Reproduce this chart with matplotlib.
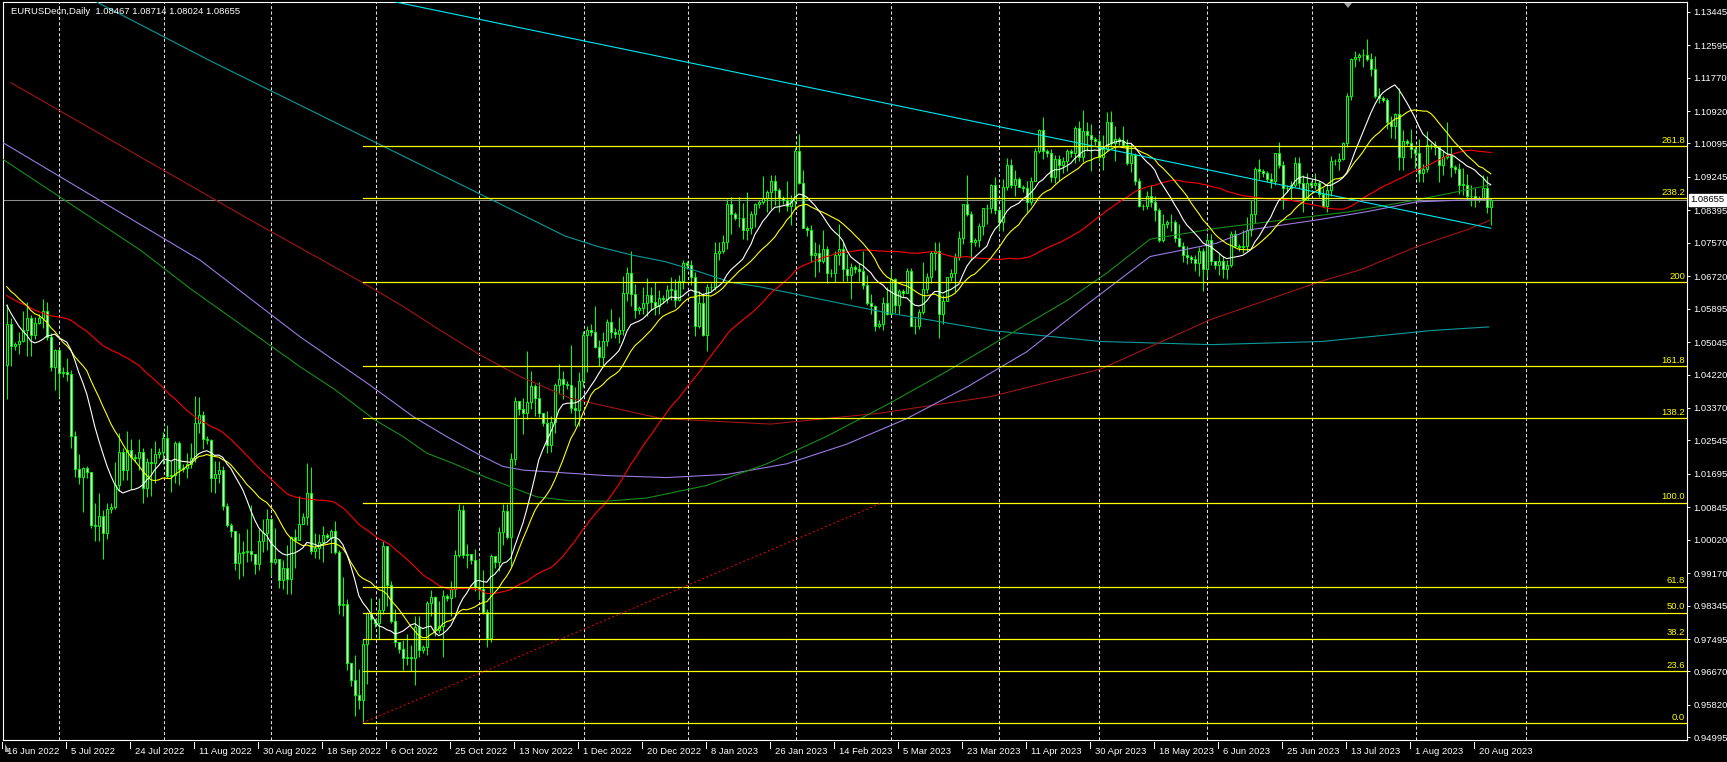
import numpy as np
import pandas as pd
import matplotlib
matplotlib.use("Agg")
import matplotlib.pyplot as plt
from matplotlib.transforms import blended_transform_factory
from matplotlib.patches import Polygon

plt.rcParams['font.family'] = ['Liberation Sans', 'DejaVu Sans']

# bars: broker has Sunday bars, no Saturday bars
bar_dates = [d for d in pd.date_range("2022-06-16", "2023-08-23") if d.weekday() != 5]

first_open = 1.0446
# one row per week (Sun..Fri)
closes = [
    1.0550, 1.0495,
    1.0500, 1.0508, 1.0535, 1.0566, 1.0522, 1.0554,
    1.0565, 1.0584, 1.0518, 1.0442, 1.0484, 1.0425,
    1.0428, 1.0424, 1.0265, 1.0183, 1.0161, 1.0184,
    1.0175, 1.0040, 1.0036, 1.0063, 1.0018, 1.0080,
    1.0085, 1.0141, 1.0225, 1.0180, 1.0230, 1.0212,
    1.0210, 1.0225, 1.0133, 1.0200, 1.0196, 1.0220,
    1.0225, 1.0260, 1.0165, 1.0166, 1.0248, 1.0181,
    1.0185, 1.0195, 1.0211, 1.0298, 1.0319, 1.0259,
    1.0255, 1.0160, 1.0170, 1.0178, 1.0088, 1.0040,
    1.0025, 0.9942, 0.9967, 0.9970, 0.9972, 0.9965,
    0.9940, 0.9999, 1.0018, 1.0055, 0.9945, 0.9953,
    0.9900, 0.9930, 0.9903, 1.0010, 1.0000, 1.0043,
    1.0060, 1.0120, 0.9973, 0.9980, 0.9995, 1.0015,
    1.0010, 1.0025, 0.9970, 0.9837, 0.9838, 0.9689,
    0.9645, 0.9607, 0.9595, 0.9737, 0.9815, 0.9801,
    0.9790, 0.9824, 0.9986, 0.9886, 0.9795, 0.9741,
    0.9725, 0.9702, 0.9705, 0.9702, 0.9780, 0.9721,
    0.9730, 0.9842, 0.9856, 0.9773, 0.9782, 0.9859,
    0.9855, 0.9877, 0.9964, 1.0078, 0.9962, 0.9965,
    0.9950, 0.9882, 0.9877, 0.9818, 0.9752, 0.9960,
    0.9945, 1.0022, 1.0074, 1.0010, 1.0207, 1.0355,
    1.0335, 1.0324, 1.0351, 1.0394, 1.0363, 1.0324,
    1.0300, 1.0243, 1.0302, 1.0396, 1.0410, 1.0399,
    1.0395, 1.0338, 1.0331, 1.0405, 1.0523, 1.0535,
    1.0530, 1.0491, 1.0467, 1.0506, 1.0555, 1.0529,
    1.0525, 1.0535, 1.0629, 1.0681, 1.0627, 1.0585,
    1.0590, 1.0605, 1.0623, 1.0606, 1.0595, 1.0617,
    1.0615, 1.0638, 1.0638, 1.0612, 1.0660, 1.0705,
    1.0700, 1.0670, 1.0545, 1.0605, 1.0522, 1.0645,
    1.0645, 1.0730, 1.0735, 1.0760, 1.0855, 1.0830,
    1.0820, 1.0820, 1.0790, 1.0795, 1.0830, 1.0855,
    1.0860, 1.0870, 1.0885, 1.0915, 1.0890, 1.0870,
    1.0865, 1.0850, 1.0863, 1.0990, 1.0910, 1.0795,
    1.0790, 1.0725, 1.0730, 1.0710, 1.0740, 1.0680,
    1.0680, 1.0725, 1.0740, 1.0690, 1.0675, 1.0695,
    1.0690, 1.0685, 1.0650, 1.0605, 1.0595, 1.0545,
    1.0550, 1.0605, 1.0575, 1.0665, 1.0598, 1.0635,
    1.0630, 1.0685, 1.0545, 1.0545, 1.0580, 1.0640,
    1.0670, 1.0730, 1.0735, 1.0575, 1.0610, 1.0670,
    1.0680, 1.0720, 1.0770, 1.0855, 1.0830, 1.0760,
    1.0765, 1.0800, 1.0845, 1.0845, 1.0905, 1.0840,
    1.0810, 1.0900, 1.0955, 1.0905, 1.0920, 1.0900,
    1.0895, 1.0860, 1.0915, 1.0990, 1.1045, 1.0990,
    1.0985, 1.0925, 1.0970, 1.0955, 1.0965, 1.0990,
    1.0985, 1.1050, 1.0975, 1.1040, 1.1030, 1.1020,
    1.1015, 1.0975, 1.0995, 1.1065, 1.1010, 1.1020,
    1.1015, 1.1005, 1.0960, 1.0980, 1.0915, 1.0850,
    1.0850, 1.0875, 1.0860, 1.0840, 1.0765, 1.0805,
    1.0810, 1.0810, 1.0770, 1.0750, 1.0725, 1.0720,
    1.0715, 1.0705, 1.0735, 1.0690, 1.0765, 1.0710,
    1.0700, 1.0710, 1.0690, 1.0700, 1.0780, 1.0750,
    1.0745, 1.0750, 1.0790, 1.0830, 1.0945, 1.0940,
    1.0935, 1.0920, 1.0915, 1.0985, 1.0955, 1.0895,
    1.0895, 1.0905, 1.0960, 1.0910, 1.0865, 1.0910,
    1.0905, 1.0910, 1.0880, 1.0850, 1.0890, 1.0965,
    1.0965, 1.0970, 1.1010, 1.1130, 1.1225, 1.1230,
    1.1235, 1.1235, 1.1225, 1.1200, 1.1130, 1.1125,
    1.1120, 1.1065, 1.1055, 1.1085, 1.0975, 1.1015,
    1.1010, 1.0995, 1.0985, 1.0935, 1.0945, 1.1005,
    1.1005, 1.1000, 1.0955, 1.0975, 1.0980, 1.0950,
    1.0945, 1.0905, 1.0905, 1.0875, 1.0875, 1.0870,
    1.0870, 1.0895, 1.0847, 1.08655,
]
highs = [
    1.0601, 1.0566,
    1.0505, 1.0530, 1.0583, 1.0606, 1.0573, 1.0569,
    1.0575, 1.0615, 1.0606, 1.0528, 1.0488, 1.0486,
    1.0440, 1.0463, 1.0433, 1.0279, 1.0220, 1.0187,
    1.0190, 1.0162, 1.0095, 1.0122, 1.0078, 1.0096,
    1.0095, 1.0200, 1.0273, 1.0235, 1.0278, 1.0257,
    1.0220, 1.0258, 1.0234, 1.0209, 1.0235, 1.0254,
    1.0235, 1.0275, 1.0294, 1.0202, 1.0254, 1.0254,
    1.0195, 1.0222, 1.0248, 1.0368, 1.0364, 1.0330,
    1.0265, 1.0258, 1.0203, 1.0201, 1.0190, 1.0096,
    1.0045, 1.0025, 1.0018, 0.9999, 1.0030, 1.0090,
    0.9960, 1.0028, 1.0055, 1.0080, 1.0055, 1.0033,
    0.9935, 0.9951, 0.9988, 1.0012, 1.0030, 1.0113,
    1.0070, 1.0198, 1.0187, 1.0020, 1.0017, 1.0037,
    1.0020, 1.0030, 1.0050, 0.9976, 0.9907, 0.9852,
    0.9660, 0.9710, 0.9672, 0.9750, 0.9817, 0.9853,
    0.9800, 0.9855, 0.9999, 0.9987, 0.9897, 0.9826,
    0.9740, 0.9748, 0.9763, 0.9734, 0.9807, 0.9807,
    0.9735, 0.9847, 0.9875, 0.9860, 0.9847, 0.9873,
    0.9865, 0.9898, 0.9976, 1.0094, 1.0089, 0.9990,
    0.9960, 0.9978, 0.9954, 0.9924, 0.9826, 0.9966,
    0.9955, 1.0034, 1.0093, 1.0094, 1.0222, 1.0365,
    1.0350, 1.0363, 1.0481, 1.0430, 1.0398, 1.0404,
    1.0320, 1.0330, 1.0316, 1.0400, 1.0449, 1.0432,
    1.0405, 1.0497, 1.0389, 1.0428, 1.0533, 1.0545,
    1.0550, 1.0595, 1.0510, 1.0531, 1.0564, 1.0589,
    1.0540, 1.0569, 1.0673, 1.0695, 1.0737, 1.0653,
    1.0595, 1.0645, 1.0667, 1.0645, 1.0658, 1.0637,
    1.0625, 1.0650, 1.0671, 1.0665, 1.0674, 1.0714,
    1.0710, 1.0713, 1.0683, 1.0634, 1.0629, 1.0653,
    1.0655, 1.0760, 1.0760, 1.0776, 1.0868, 1.0874,
    1.0835, 1.0874, 1.0858, 1.0887, 1.0838, 1.0859,
    1.0865, 1.0927, 1.0890, 1.0929, 1.0930, 1.0897,
    1.0875, 1.0915, 1.0878, 1.0998, 1.1033, 1.0942,
    1.0800, 1.0802, 1.0760, 1.0755, 1.0790, 1.0750,
    1.0690, 1.0735, 1.0805, 1.0760, 1.0729, 1.0705,
    1.0700, 1.0705, 1.0735, 1.0675, 1.0627, 1.0600,
    1.0560, 1.0620, 1.0645, 1.0691, 1.0668, 1.0640,
    1.0640, 1.0694, 1.0694, 1.0565, 1.0589, 1.0708,
    1.0680, 1.0737, 1.0759, 1.0760, 1.0625, 1.0671,
    1.0690, 1.0730, 1.0788, 1.0856, 1.0930, 1.0838,
    1.0770, 1.0807, 1.0845, 1.0855, 1.0907, 1.0925,
    1.0830, 1.0918, 1.0973, 1.0970, 1.0942, 1.0925,
    1.0905, 1.0915, 1.0925, 1.0998, 1.1047, 1.1076,
    1.0995, 1.0995, 1.0980, 1.0980, 1.0975, 1.0995,
    1.0995, 1.1054, 1.1067, 1.1095, 1.1064, 1.1060,
    1.1025, 1.1034, 1.1032, 1.1090, 1.1092, 1.1055,
    1.1025, 1.1054, 1.1020, 1.1010, 1.0985, 1.0922,
    1.0855, 1.0888, 1.0905, 1.0875, 1.0846, 1.0830,
    1.0815, 1.0829, 1.0815, 1.0805, 1.0760, 1.0750,
    1.0725, 1.0725, 1.0746, 1.0743, 1.0778, 1.0780,
    1.0710, 1.0730, 1.0723, 1.0712, 1.0787, 1.0790,
    1.0755, 1.0790, 1.0823, 1.0865, 1.0949, 1.0971,
    1.0945, 1.0940, 1.0935, 1.0985, 1.1012, 1.0965,
    1.0905, 1.0915, 1.0976, 1.0974, 1.0930, 1.0935,
    1.0915, 1.0935, 1.0915, 1.0895, 1.0905, 1.0977,
    1.0970, 1.0985, 1.1013, 1.1137, 1.1226, 1.1245,
    1.1240, 1.1250, 1.1276, 1.1240, 1.1232, 1.1150,
    1.1130, 1.1125, 1.1080, 1.1087, 1.1150, 1.1043,
    1.1020, 1.1047, 1.1000, 1.1020, 1.0957, 1.1042,
    1.1010, 1.1017, 1.1000, 1.0992, 1.1064, 1.1000,
    1.0955, 1.0960, 1.0947, 1.0931, 1.0903, 1.0895,
    1.0875, 1.0930, 1.0928, 1.08714,
]
lows = [
    1.0359, 1.0444,
    1.0485, 1.0474, 1.0505, 1.0468, 1.0470, 1.0512,
    1.0550, 1.0541, 1.0510, 1.0431, 1.0383, 1.0366,
    1.0415, 1.0405, 1.0235, 1.0162, 1.0144, 1.0072,
    1.0160, 1.0032, 0.9998, 0.9999, 0.9952, 1.0005,
    1.0070, 1.0080, 1.0125, 1.0154, 1.0153, 1.0130,
    1.0200, 1.0180, 1.0096, 1.0110, 1.0114, 1.0145,
    1.0210, 1.0195, 1.0160, 1.0123, 1.0146, 1.0141,
    1.0175, 1.0160, 1.0185, 1.0200, 1.0273, 1.0232,
    1.0245, 1.0123, 1.0120, 1.0147, 1.0077, 1.0034,
    1.0010, 0.9926, 0.9901, 0.9910, 0.9945, 0.9949,
    0.9914, 0.9925, 0.9971, 0.9975, 0.9910, 0.9939,
    0.9880, 0.9877, 0.9865, 0.9864, 0.9930, 1.0000,
    1.0045, 1.0040, 0.9966, 0.9955, 0.9954, 0.9945,
    1.0005, 0.9967, 0.9966, 0.9813, 0.9807, 0.9670,
    0.9630, 0.9554, 0.9571, 0.9536, 0.9635, 0.9749,
    0.9780, 0.9750, 0.9812, 0.9834, 0.9789, 0.9729,
    0.9715, 0.9670, 0.9683, 0.9668, 0.9632, 0.9703,
    0.9715, 0.9710, 0.9807, 0.9756, 0.9765, 0.9705,
    0.9845, 0.9808, 0.9857, 0.9959, 0.9955, 0.9929,
    0.9940, 0.9872, 0.9851, 0.9812, 0.9730, 0.9742,
    0.9930, 0.9922, 0.9988, 1.0005, 0.9935, 1.0192,
    1.0320, 1.0271, 1.0308, 1.0335, 1.0316, 1.0315,
    1.0290, 1.0223, 1.0226, 1.0273, 1.0373, 1.0360,
    1.0385, 1.0325, 1.0290, 1.0290, 1.0390, 1.0428,
    1.0520, 1.0489, 1.0443, 1.0442, 1.0495, 1.0514,
    1.0515, 1.0503, 1.0522, 1.0609, 1.0595, 1.0566,
    1.0575, 1.0577, 1.0572, 1.0586, 1.0574, 1.0575,
    1.0605, 1.0605, 1.0612, 1.0594, 1.0608, 1.0640,
    1.0690, 1.0650, 1.0519, 1.0540, 1.0520, 1.0483,
    1.0635, 1.0637, 1.0713, 1.0730, 1.0740, 1.0780,
    1.0815, 1.0796, 1.0767, 1.0765, 1.0780, 1.0797,
    1.0845, 1.0855, 1.0834, 1.0844, 1.0854, 1.0836,
    1.0855, 1.0839, 1.0802, 1.0842, 1.0907, 1.0794,
    1.0775, 1.0708, 1.0669, 1.0682, 1.0705, 1.0655,
    1.0670, 1.0657, 1.0700, 1.0660, 1.0659, 1.0613,
    1.0680, 1.0660, 1.0640, 1.0600, 1.0577, 1.0533,
    1.0540, 1.0536, 1.0573, 1.0577, 1.0578, 1.0577,
    1.0620, 1.0630, 1.0546, 1.0524, 1.0537, 1.0575,
    1.0630, 1.0655, 1.0687, 1.0516, 1.0550, 1.0610,
    1.0660, 1.0633, 1.0713, 1.0753, 1.0825, 1.0713,
    1.0750, 1.0745, 1.0777, 1.0805, 1.0833, 1.0830,
    1.0790, 1.0788, 1.0891, 1.0895, 1.0875, 1.0900,
    1.0885, 1.0836, 1.0852, 1.0915, 1.0985, 1.0970,
    1.0975, 1.0912, 1.0910, 1.0914, 1.0935, 1.0940,
    1.0975, 1.0960, 1.0966, 1.0962, 1.0990, 1.0940,
    1.1005, 1.0966, 1.0942, 1.0990, 1.1000, 1.0966,
    1.1005, 1.1000, 1.0956, 1.0938, 1.0903, 1.0848,
    1.0840, 1.0842, 1.0849, 1.0812, 1.0760, 1.0759,
    1.0795, 1.0787, 1.0760, 1.0745, 1.0707, 1.0702,
    1.0705, 1.0686, 1.0673, 1.0635, 1.0670, 1.0700,
    1.0690, 1.0675, 1.0667, 1.0665, 1.0696, 1.0745,
    1.0735, 1.0732, 1.0735, 1.0775, 1.0806, 1.0918,
    1.0925, 1.0912, 1.0895, 1.0903, 1.0946, 1.0844,
    1.0885, 1.0865, 1.0898, 1.0897, 1.0835, 1.0865,
    1.0895, 1.0894, 1.0874, 1.0847, 1.0834, 1.0875,
    1.0955, 1.0942, 1.0967, 1.1000, 1.1120, 1.1205,
    1.1220, 1.1205, 1.1218, 1.1180, 1.1125, 1.1113,
    1.1115, 1.1047, 1.1023, 1.1020, 1.0943, 1.0943,
    1.1005, 1.0973, 1.0948, 1.0912, 1.0911, 1.0937,
    1.0995, 1.0981, 1.0912, 1.0930, 1.0970, 1.0925,
    1.0935, 1.0882, 1.0878, 1.0867, 1.0850, 1.0847,
    1.0860, 1.0872, 1.0833, 1.08024,
]
# closes before 16 Jun 2022, needed to start the moving averages
pre_closes = [
    1.0825, 1.0810,
    1.0805, 1.0780, 1.0785, 1.0855, 1.0835, 1.0795,
    1.0780, 1.0715, 1.0640, 1.0560, 1.0500, 1.0545,
    1.0540, 1.0505, 1.0525, 1.0620, 1.0540, 1.0550,
    1.0535, 1.0560, 1.0530, 1.0515, 1.0380, 1.0410,
    1.0405, 1.0435, 1.0550, 1.0465, 1.0585, 1.0560,
    1.0565, 1.0690, 1.0735, 1.0675, 1.0725, 1.0735,
    1.0740, 1.0780, 1.0735, 1.0650, 1.0750, 1.0720,
    1.0725, 1.0695, 1.0705, 1.0715, 1.0615, 1.0520,
    1.0510, 1.0410, 1.0415, 1.0445,
]

# slow averages (bar number, price)
green_bar = [-1.7, 33.3, 45.8, 73.3, 82.1, 92.1, 99.1, 105.0, 111.6, 118.3, 125.8, 132.5, 140.8,
             150, 160, 175, 190, 205, 220, 235, 250, 265, 275, 285.8, 302.5, 319.1, 335.8, 352.5, 360.8, 370.8]
green_px = [1.0974, 1.0739, 1.0641, 1.0442, 1.0383, 1.0306, 1.0264, 1.0222, 1.0196, 1.0167, 1.0137, 1.0111, 1.0101,
            1.0100, 1.0108, 1.0140, 1.0195, 1.0265, 1.0345, 1.0430, 1.0520, 1.0610, 1.0680, 1.0766, 1.0794, 1.0815, 1.0836, 1.0866, 1.0883, 1.0904]
purple_bar = [-1.7, 48.3, 73.3, 90.8, 101.6, 110.0, 118.3, 124.1, 129.1, 140.8,
              150, 165, 180, 195, 210, 225, 240, 255, 270, 285.8, 302.5, 310.8, 327.5, 340.0, 352.5, 365.0, 371.0]
purple_px = [1.1016, 1.0713, 1.0518, 1.0395, 1.0315, 1.0264, 1.0217, 1.0188, 1.0179, 1.0171,
             1.0165, 1.0160, 1.0168, 1.0195, 1.0245, 1.0310, 1.0390, 1.0480, 1.0600, 1.0722, 1.0756, 1.0790, 1.0815, 1.0836, 1.0861, 1.0866, 1.0868]
darkred_bar = [1.0, 30, 60, 90.8, 99.1, 107.5, 118.3, 128.3, 140.8, 163.6, 191, 218.5, 246, 273.5, 301, 328.8, 338.3, 352.5, 365.0, 371.0]
darkred_px = [1.1164, 1.0995, 1.0820, 1.0645, 1.0595, 1.0540, 1.0472, 1.0417, 1.0362, 1.0310, 1.0296, 1.0324, 1.0366, 1.0436, 1.0562, 1.0660, 1.0688, 1.0747, 1.0790, 1.0815]
teal_bar = [22.5, 50.4, 95, 139.6, 147.9, 156.2, 164.6, 172.9, 181.2, 188.3, 218.5, 246, 273.5, 301, 328.8, 356.3, 370.5]
teal_px = [1.1369, 1.1222, 1.0998, 1.0774, 1.0747, 1.0726, 1.0709, 1.0684, 1.0656, 1.0645, 1.0582, 1.0534, 1.0506, 1.0498, 1.0506, 1.0534, 1.0543]

# drawn objects
trend_bar = [97.3, 371]
trend_px = [1.1369, 1.0794]
fib_bar = [89, 219]
fib_px = [0.95365, 1.00965]
fib_levels = [0.0, 23.6, 38.2, 50.0, 61.8, 100.0, 138.2, 161.8, 200.0, 238.2, 261.8]
fib_names = ["0.0", "23.6", "38.2", "50.0", "61.8", "100.0", "138.2", "161.8", "200", "238.2", "261.8"]

price_ticks = [1.13445, 1.12595, 1.11770, 1.10920, 1.10095, 1.09245, 1.08395, 1.07570, 1.06720, 1.05895,
               1.05045, 1.04220, 1.03370, 1.02545, 1.01695, 1.00845, 1.00020, 0.99170, 0.98345, 0.97495,
               0.96670, 0.95820, 0.94995]
grid_bars = [13.1, 39.2, 66.05, 92.2, 118.15, 144.2, 170.3, 197.2, 221.05, 248.15, 273.05, 300.1, 326.2, 352.2, 379.9]
title = "EURUSDecn,Daily  1.08467 1.08714 1.08024 1.08655"
last_price = 1.08655

LIME = "#00ff00"

n = len(closes)
x = np.arange(n)
c = np.array(closes)
h = np.array(highs)
l = np.array(lows)
o = np.concatenate([[first_open], c[:-1]])

allc = pd.Series(np.concatenate([pre_closes, c]))
def sma(period):
    return allc.rolling(period).mean().values[len(pre_closes):]

W, H = 1727, 762
fig = plt.figure(figsize=(W / 100, H / 100), dpi=100, facecolor="black")
ax = fig.add_axes([3 / W, 22 / H, 1684 / W, 738 / H], facecolor="black")
ax.set_xlim(-0.95, 420.05)
ax.set_ylim(0.94927, 1.13692)

# grid
for gx in grid_bars:
    ax.axvline(gx, color="#e0e0e0", lw=0.75, dashes=(3, 2.2), zorder=1)

# current price line
ax.axhline(last_price, color="#8c8c8c", lw=0.75, zorder=1.5)

# candles
ax.vlines(x, l, h, color=LIME, lw=0.75, zorder=3)
up = c >= o
body_lo = np.minimum(o, c)
body_h = np.maximum(np.abs(c - o), 0.00002)
ax.bar(x, body_h, bottom=body_lo, width=0.6, color=np.where(up, "black", "white"),
       edgecolor=LIME, linewidth=0.75, zorder=4)

# moving averages
ax.plot(teal_bar, teal_px, color="#0a9a9a", lw=0.8, zorder=5)
ax.plot(darkred_bar, darkred_px, color="#a01515", lw=0.8, zorder=5)
ax.plot(purple_bar, purple_px, color="#9a7ae0", lw=0.8, zorder=5)
ax.plot(green_bar, green_px, color="#188c18", lw=0.8, zorder=5)
ax.plot(x, sma(55), color="#ff0000", lw=0.8, zorder=5)
ax.plot(x, sma(21), color="#ffff00", lw=0.8, zorder=5)
ax.plot(x, sma(13), color="#ffffff", lw=0.8, zorder=5)

# trend line
ax.plot(trend_bar, trend_px, color="#00e8f0", lw=0.8, zorder=6)

# fibonacci
lo, hi = fib_px
for lev, name in zip(fib_levels, fib_names):
    p = lo + (hi - lo) * lev / 100
    ax.plot([fib_bar[0], 420.05], [p, p], color="#ffff00", lw=0.9, zorder=6)
    ax.text(419.6, p + 0.0003, name, color="#ffff00", fontsize=6.8, ha="right", va="bottom", zorder=7)
ax.plot(fib_bar, fib_px, color="#ff0000", lw=0.8, dashes=(1.5, 2.5), zorder=6)

# axes frame and price scale
for s in ax.spines.values():
    s.set_color("white")
    s.set_linewidth(0.8)
ax.set_xticks([])
ax.yaxis.tick_right()
ax.set_yticks(price_ticks)
ax.set_yticklabels([f"{v:.5f}" for v in price_ticks])
ax.tick_params(axis="y", colors="white", labelsize=6.8, length=2.5, width=0.7, pad=2)

# last price box
fig.text(1690 / W, 1 - 200 / H, f"{last_price:.5f}", color="black", fontsize=6.8, va="center", ha="left",
         bbox=dict(boxstyle="square,pad=0.15", facecolor="white", edgecolor="white"))

# date scale
tr = blended_transform_factory(ax.transData, fig.transFigure)
for k in range(0, n, 16):
    d = bar_dates[k]
    ax.text(k, 11 / H, f"{d.day} {d.strftime('%b %Y')}", transform=tr, color="white",
            fontsize=6.8, ha="left", va="center", clip_on=False)
    ax.plot([k - 1.3, k - 1.3], [14 / H, 20 / H], transform=tr, color="white", lw=0.7, clip_on=False)

fig.text(11 / W, 1 - 11 / H, title, color="white", fontsize=6.8, va="center", ha="left")

# small gray markers of the terminal
fig.patches.append(Polygon([[1344 / W, 1 - 3 / H], [1352 / W, 1 - 3 / H], [1348 / W, 1 - 8 / H]],
                           closed=True, transform=fig.transFigure, facecolor="#a0a0a0", edgecolor="none"))
fig.patches.append(Polygon([[5 / W, 1 - 744 / H], [5 / W, 1 - 752 / H], [10 / W, 1 - 752 / H]],
                           closed=True, transform=fig.transFigure, facecolor="#a0a0a0", edgecolor="none"))

fig.savefig("out.png", dpi=100, facecolor="black")
